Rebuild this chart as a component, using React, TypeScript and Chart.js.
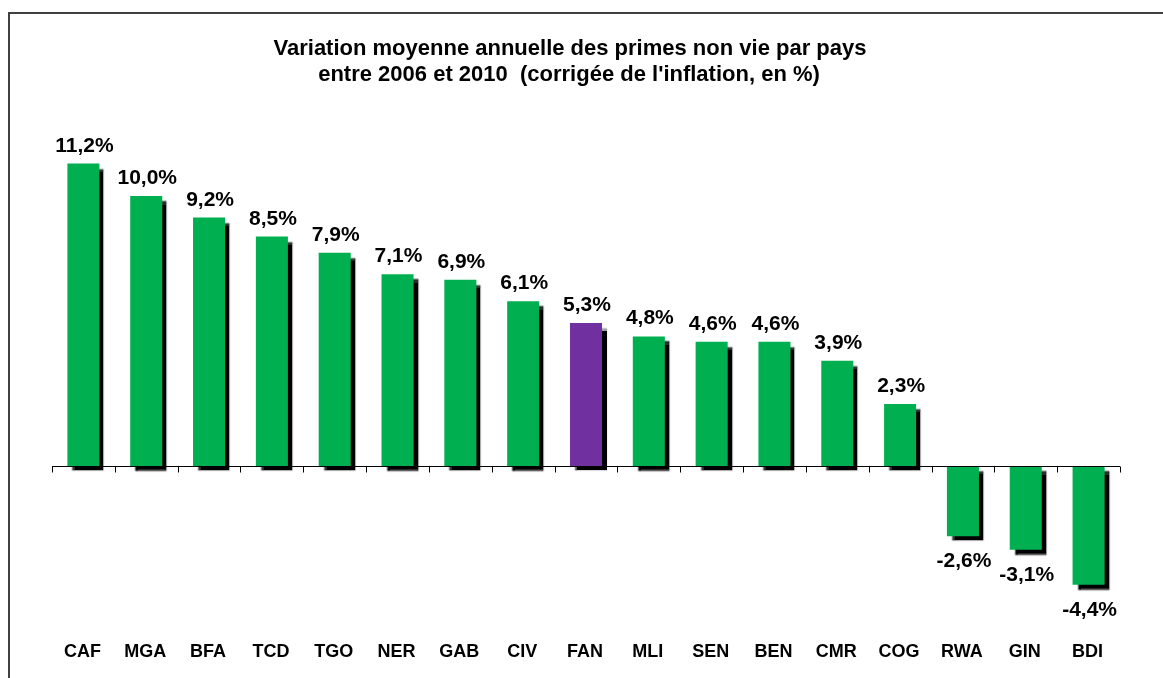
import React, { useEffect, useRef } from 'react';
import { Chart, registerables } from 'chart.js';

Chart.register(...registerables);

const categories = ['CAF', 'MGA', 'BFA', 'TCD', 'TGO', 'NER', 'GAB', 'CIV', 'FAN', 'MLI', 'SEN', 'BEN', 'CMR', 'COG', 'RWA', 'GIN', 'BDI'];
const values = [11.2, 10.0, 9.2, 8.5, 7.9, 7.1, 6.9, 6.1, 5.3, 4.8, 4.6, 4.6, 3.9, 2.3, -2.6, -3.1, -4.4];
const highlighted = ['FAN'];
const titleLines = [
  'Variation moyenne annuelle des primes non vie par pays',
  "entre 2006 et 2010  (corrigée de l'inflation, en %)",
];

const GREEN = '#00B050';
const PURPLE = '#7030A0';
const FONT = '"Liberation Sans", Arial, sans-serif';

const fmt = (v: number) => v.toFixed(1).replace('.', ',') + '%';

const decorPlugin = {
  id: 'decor',
  beforeDatasetsDraw(chart: any) {
    const ctx = chart.ctx;
    ctx.save();
    ctx.shadowColor = 'rgba(0,0,0,1)';
    ctx.shadowOffsetX = 5;
    ctx.shadowOffsetY = 5;
    ctx.shadowBlur = 1.5;
  },
  afterDatasetsDraw(chart: any) {
    chart.ctx.restore();
  },
  afterDraw(chart: any) {
    const ctx = chart.ctx;
    const xs = chart.scales.x;
    const ys = chart.scales.y;
    const area = chart.chartArea;
    ctx.save();

    // frame
    ctx.strokeStyle = '#404040';
    ctx.lineWidth = 2;
    ctx.beginPath();
    ctx.moveTo(9, chart.height + 5);
    ctx.lineTo(9, 13);
    ctx.lineTo(chart.width + 5, 13);
    ctx.stroke();

    // title
    ctx.fillStyle = '#000';
    ctx.textAlign = 'center';
    ctx.textBaseline = 'alphabetic';
    ctx.font = `bold 22px ${FONT}`;
    ctx.fillText(titleLines[0], 570, 55);
    ctx.fillText(titleLines[1], 569, 81);

    // zero axis
    const y0 = Math.round(ys.getPixelForValue(0)) + 0.5;
    ctx.strokeStyle = '#000';
    ctx.lineWidth = 1;
    ctx.beginPath();
    ctx.moveTo(xs.left, y0);
    ctx.lineTo(xs.right, y0);
    const n = categories.length;
    const step = (xs.right - xs.left) / n;
    for (let i = 0; i <= n; i++) {
      const x = Math.round(xs.left + i * step) + 0.5;
      ctx.moveTo(x, y0);
      ctx.lineTo(x, y0 + 6);
    }
    ctx.stroke();

    // value labels
    const meta = chart.getDatasetMeta(0);
    ctx.font = `bold 21px ${FONT}`;
    meta.data.forEach((bar: any, i: number) => {
      const v = values[i];
      const cx = bar.x + 1;
      if (v >= 0) {
        ctx.fillText(fmt(v), cx, bar.y - 12);
      } else {
        ctx.fillText(fmt(v), cx, bar.y + 31);
      }
    });

    // category labels
    ctx.font = `bold 18px ${FONT}`;
    ctx.textBaseline = 'middle';
    categories.forEach((c, i) => {
      ctx.fillText(c, xs.getPixelForValue(i) - 1, area.bottom + 24);
    });
    ctx.restore();
  },
};

export default function App() {
  const ref = useRef<HTMLCanvasElement | null>(null);
  useEffect(() => {
    if (!ref.current) return;
    const chart = new Chart(ref.current, {
      type: 'bar',
      data: {
        labels: categories,
        datasets: [
          {
            data: values,
            backgroundColor: categories.map((c) => (highlighted.includes(c) ? PURPLE : GREEN)),
            borderWidth: 0,
            categoryPercentage: 1,
            barPercentage: 0.51,
          },
        ],
      },
      options: {
        animation: false,
        responsive: true,
        maintainAspectRatio: false,
        layout: { padding: { left: 52, right: 43, top: 142, bottom: 50 } },
        plugins: {
          legend: { display: false },
          tooltip: { enabled: false },
          title: { display: false },
        },
        scales: {
          x: { display: false },
          y: { display: false, min: -6, max: 12 },
        },
      },
      plugins: [decorPlugin],
    });
    return () => chart.destroy();
  }, []);
  return (
    <div style={{ position: 'fixed', left: 0, top: 0, width: 1163, height: 678, background: '#fff' }}>
      <canvas ref={ref} />
    </div>
  );
}
